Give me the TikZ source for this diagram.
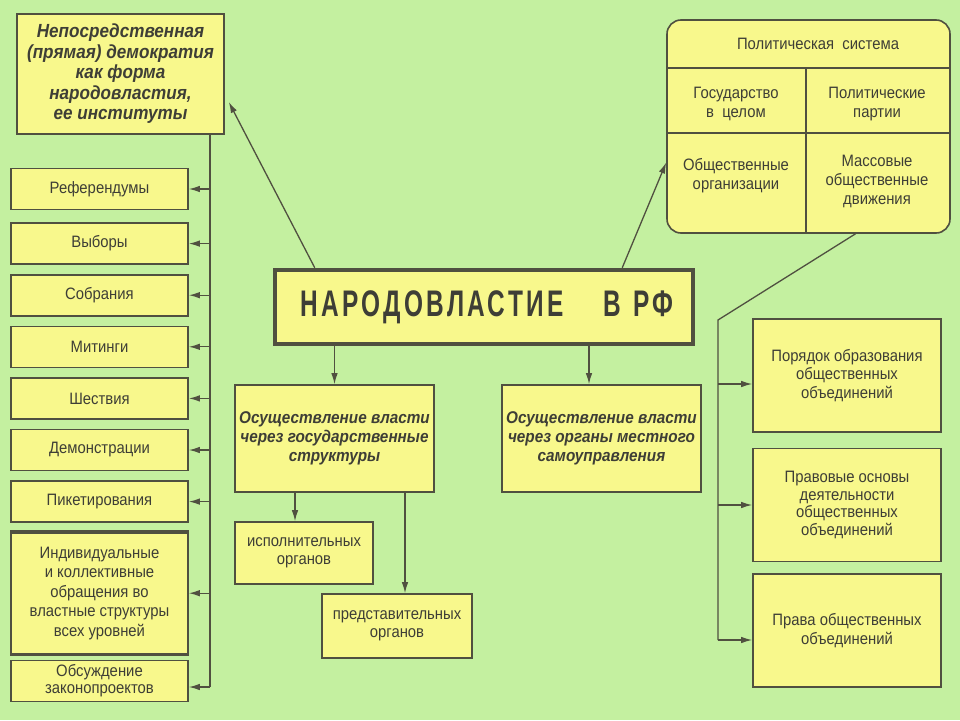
\documentclass[tikz,border=0pt]{standalone}
\usepackage{fontspec}
\setmainfont{Liberation Sans}[FakeStretch=0.9]
\newfontfamily\headfont{Liberation Sans}[FakeStretch=0.66, LetterSpace=9]
\usetikzlibrary{positioning,arrows.meta}
\definecolor{bggreen}{HTML}{C4F0A0}
\definecolor{boxyellow}{HTML}{F8F88C}
\definecolor{edge}{HTML}{505040}
\definecolor{ink}{HTML}{3E3E36}

\begin{document}
\begin{tikzpicture}[x=1pt, y=-1pt,
  box/.style={draw=edge, fill=boxyellow, line width=1.6pt, align=center, inner sep=0pt, text=ink, font=\fontsize{16.5}{18.5}\selectfont},
  item/.style={box, minimum width=177pt, minimum height=41pt},
  side/.style={box, minimum width=188pt, minimum height=113pt},
  heavy/.style={font=\bfseries\itshape\fontsize{17}{19}\selectfont},
  cell/.style={align=center, inner sep=0pt, text=ink, font=\fontsize{16.5}{19}\selectfont},
  link/.style={draw=edge, line width=1.3pt},
  arr/.style={link, -{Latex[length=11pt,width=6.5pt]}}
]

% background and page size
\fill[bggreen] (0,0) rectangle (960,720);
\useasboundingbox (0,0) rectangle (960,720);

% central box
\node[box, line width=4.5pt, minimum width=418pt, minimum height=74pt, font=\headfont\bfseries\fontsize{37}{40}\selectfont] (narod) at (484,307) {\hspace*{6pt}НАРОДОВЛАСТИЕ\hspace{40pt}В\hspace{12pt}РФ};

% direct democracy and its institutions
\node[box, minimum width=207pt, minimum height=120pt, font=\bfseries\itshape\fontsize{19}{20.5}\selectfont] (direct) at (120.5,74) {Непосредственная\\(прямая) демократия\\как форма\\народовластия,\\ее институты};

\node[item] (ref) at (99.5,189) {Референдумы};
\node[item, below=12pt of ref] (vyb) {Выборы};
\node[item, below=9pt of vyb] (sob) {Собрания};
\node[item, below=9pt of sob] (mit) {Митинги};
\node[item, below=9pt of mit] (shes) {Шествия};
\node[item, below=9pt of shes] (demo) {Демонстрации};
\node[item, below=9pt of demo] (pik) {Пикетирования};
\node[item, below=9pt of pik, minimum height=121pt, font=\fontsize{16.5}{19.5}\selectfont] (ind) {Индивидуальные\\и коллективные\\обращения во\\властные структуры\\всех уровней};
\node[item, below=5pt of ind, font=\fontsize{16.5}{17.5}\selectfont] (obs) {Обсуждение\\законопроектов};
\draw[edge, line width=3.5pt] (ind.north west) -- (ind.north east);
\draw[edge, line width=3.5pt] (ind.south west) -- (ind.south east);

\coordinate (ltop) at ([xshift=89.5pt]direct.south);
\coordinate (lbot) at (210,687);
\draw[link] (ltop) -- (lbot);
\foreach \n in {ref,vyb,sob,mit,shes,demo,pik,ind}
  \draw[arr] (ltop |- \n.east) -- (\n.east);
\draw[arr] (lbot) -- (lbot -| obs.east);

% political system
\node[box, rounded corners=14pt, minimum width=283pt, minimum height=213pt] (pol) at (808.5,126.5) {};
\coordinate (hdr) at (0,68);
\coordinate (row) at (0,133);
\coordinate (mid) at (806,68);
\draw[edge, line width=1.6pt] (hdr -| pol.west) -- (hdr -| pol.east);
\draw[edge, line width=1.6pt] (row -| pol.west) -- (row -| pol.east);
\draw[edge, line width=1.6pt] (mid) -- (mid |- pol.south);
\node[cell] (polt) at (818,44) {Политическая~~система};
\node[cell] (gos) at (736,104) {Государство\\в~~целом};
\node[cell] (part) at (877,104) {Политические\\партии};
\node[cell] (orgs) at (736,176) {Общественные\\организации};
\node[cell] (mass) at (877,181) {Массовые\\общественные\\движения};

\draw[arr] ([xshift=42pt]narod.north west) -- ([shift={(4pt,-28pt)}]direct.east);
\draw[arr] ([xshift=-73pt]narod.north east) -- ([yshift=-36pt]pol.west);

% two ways of exercising power
\node[box, heavy, minimum width=199pt, minimum height=107pt] (gov) at (334.5,438.5) {Осуществление власти\\через государственные\\структуры};
\node[box, heavy, minimum width=199pt, minimum height=107pt] (mest) at (601.5,438.5) {Осуществление власти\\через органы местного\\самоуправления};
\node[box, minimum width=138pt, minimum height=62pt] (isp) at (304,553) {исполнительных\\органов};
\node[box, minimum width=150pt, minimum height=64pt] (pred) at (397,626) {представительных\\органов};

\coordinate (mx) at (589,0);
\coordinate (ix) at (295,0);
\coordinate (px) at (405,0);
\draw[arr] (narod.south -| gov.north) -- (gov.north);
\draw[arr] (mx |- narod.south) -- (mx |- mest.north);
\draw[arr] (ix |- gov.south) -- (ix |- isp.north);
\draw[arr] (px |- gov.south) -- (px |- pred.north);

% public associations
\node[side] (por) at (847,375.5) {Порядок образования\\общественных\\объединений};
\node[side, below=15pt of por, font=\fontsize{16.5}{17.5}\selectfont] (prav) {Правовые основы\\деятельности\\общественных\\объединений};
\node[side, below=11pt of prav] (prava) {Права общественных\\объединений};

\coordinate (rtop) at (718,320);
\coordinate (ra) at (718,384);
\coordinate (rb) at (718,505);
\coordinate (rc) at (718,640);
\draw[link] ([xshift=47pt]pol.south) -- (rtop) -- (rc);
\draw[arr] (ra) -- (ra -| por.west);
\draw[arr] (rb) -- (rb -| prav.west);
\draw[arr] (rc) -- (rc -| prava.west);

\end{tikzpicture}
\end{document}
